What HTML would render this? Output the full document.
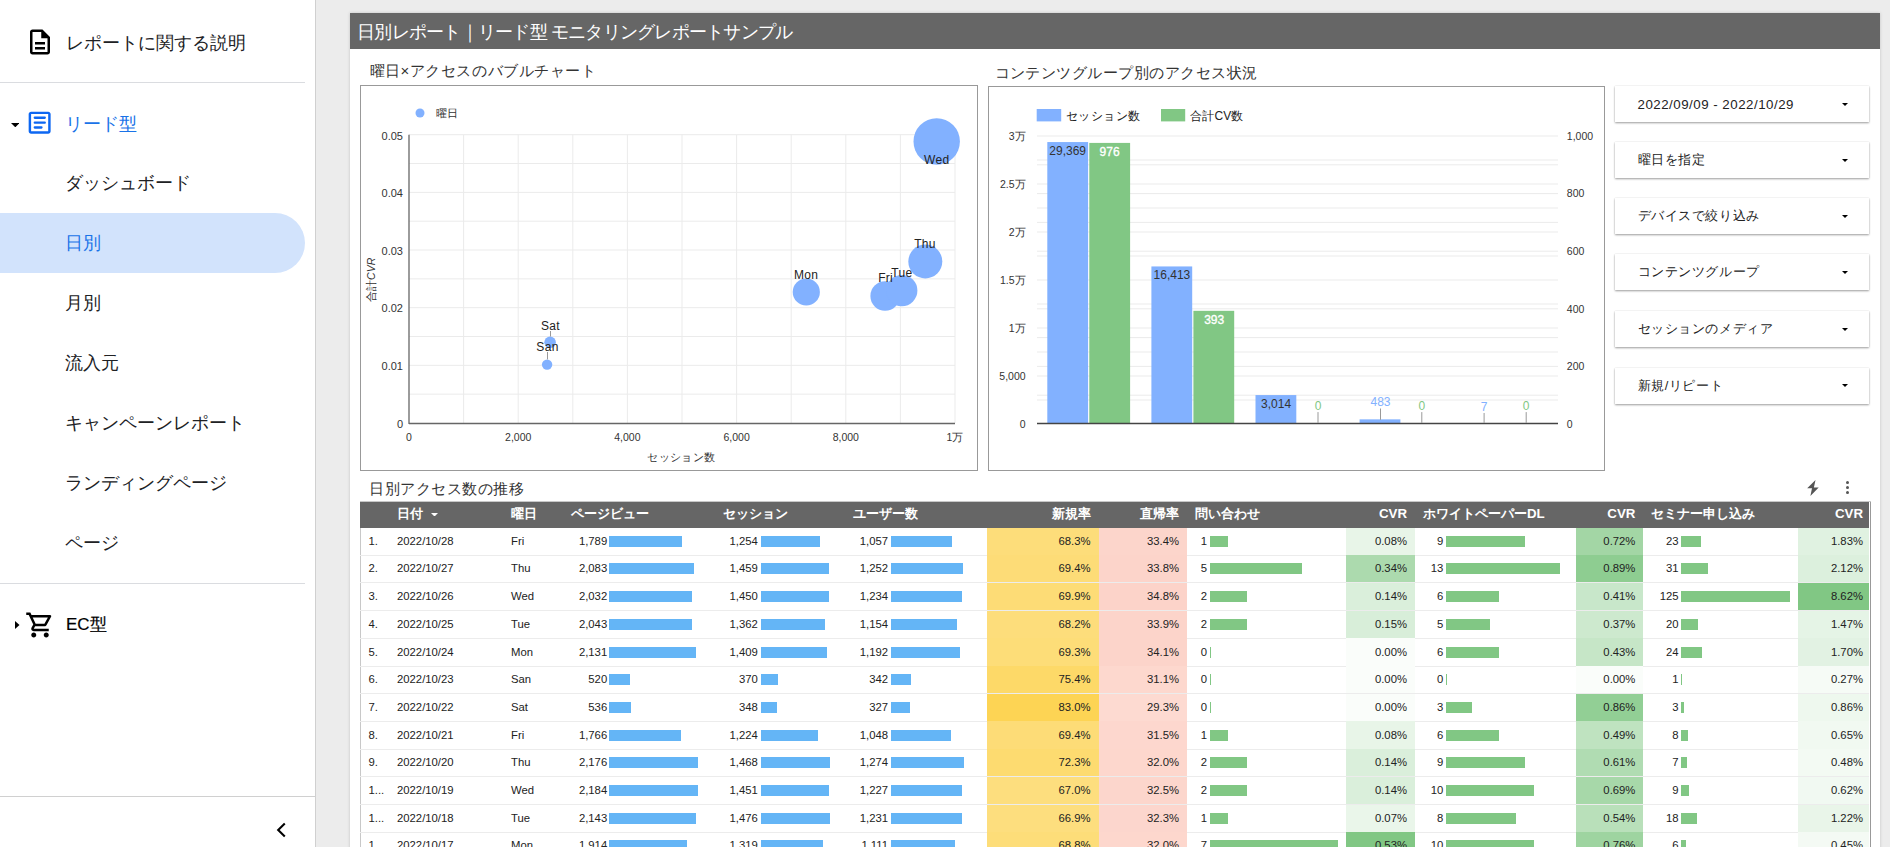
<!DOCTYPE html>
<html lang="ja"><head><meta charset="utf-8"><title>日別レポート</title>
<style>
*{margin:0;padding:0;box-sizing:border-box}
html,body{width:1890px;height:847px;overflow:hidden;background:#ececec;font-family:"Liberation Sans", sans-serif;}
.t{position:absolute;white-space:nowrap}
.r{position:absolute}
</style></head><body>
<div class="r" style="left:0.00px;top:0.00px;width:315.00px;height:847.00px;background:#fff;"></div>
<div class="r" style="left:315.00px;top:0.00px;width:1.00px;height:847.00px;background:#d0d0d0;"></div>
<svg class="r" style="left:25px;top:26.7px" width="30" height="30" viewBox="0 0 24 24"><path fill="#000" d="M8 16h8v2H8zm0-4h8v2H8zm6-10H6c-1.1 0-2 .9-2 2v16c0 1.1.89 2 1.99 2H18c1.1 0 2-.9 2-2V8l-6-6zm4 18H6V4h7v5h5v11z"/></svg>
<div class="t" style="left:65.50px;top:30.50px;line-height:24px;font-size:17.5px;color:#202124;font-weight:normal;">レポートに関する説明</div>
<div class="r" style="left:0.00px;top:82.00px;width:305.00px;height:1.00px;background:#dadce0;"></div>
<svg class="r" style="left:10.6px;top:122.9px" width="8.6" height="4.3" viewBox="0 0 9 4.5"><path d="M0 0h9L4.5 4.5z" fill="#000"/></svg>
<svg class="r" style="left:25.3px;top:108.1px" width="29.3" height="29.3" viewBox="0 0 24 24"><path fill="#0d67f2" d="M19 5v14H5V5h14m0-2H5c-1.1 0-2 .9-2 2v14c0 1.1.9 2 2 2h14c1.1 0 2-.9 2-2V5c0-1.1-.9-2-2-2z"/><path stroke="#0d67f2" stroke-width="1.9" stroke-linecap="round" d="M8 8h8.2M8 12h8.2M8 16h5.5"/></svg>
<div class="t" style="left:64.50px;top:112.00px;line-height:24px;font-size:17.5px;color:#1a73e8;font-weight:normal;">リード型</div>
<div class="r" style="left:0;top:213px;width:305px;height:60px;background:#d2e3fc;border-radius:0 30px 30px 0"></div>
<div class="t" style="left:65.00px;top:171.00px;line-height:24px;font-size:17.5px;color:#202124;font-weight:normal;">ダッシュボード</div>
<div class="t" style="left:65.00px;top:231.00px;line-height:24px;font-size:17.5px;color:#1a73e8;font-weight:normal;">日別</div>
<div class="t" style="left:65.00px;top:291.00px;line-height:24px;font-size:17.5px;color:#202124;font-weight:normal;">月別</div>
<div class="t" style="left:65.00px;top:351.00px;line-height:24px;font-size:17.5px;color:#202124;font-weight:normal;">流入元</div>
<div class="t" style="left:65.00px;top:411.00px;line-height:24px;font-size:17.5px;color:#202124;font-weight:normal;">キャンペーンレポート</div>
<div class="t" style="left:65.00px;top:471.00px;line-height:24px;font-size:17.5px;color:#202124;font-weight:normal;">ランディングページ</div>
<div class="t" style="left:65.00px;top:531.00px;line-height:24px;font-size:17.5px;color:#202124;font-weight:normal;">ページ</div>
<div class="r" style="left:0.00px;top:583.00px;width:305.00px;height:1.00px;background:#dadce0;"></div>
<svg class="r" style="left:15px;top:621px" width="5" height="8" viewBox="0 0 5 8"><path d="M0 0v8l4.5-4z" fill="#000"/></svg>
<svg class="r" style="left:24.75px;top:609.5px" width="30" height="30" viewBox="0 0 24 24"><path fill="#000" d="M15.55 13c.75 0 1.41-.41 1.75-1.03l3.58-6.49c.37-.66-.11-1.48-.87-1.48H5.21l-.94-2H1v2h2l3.6 7.59-1.35 2.44C4.52 15.37 5.48 17 7 17h12v-2H7l1.1-2h7.45zM6.16 6h12.15l-2.76 5H8.53L6.16 6zM7 18c-1.1 0-1.99.9-1.99 2S5.9 22 7 22s2-.9 2-2-.9-2-2-2zm10 0c-1.1 0-1.99.9-1.99 2s.89 2 1.99 2 2-.9 2-2-.9-2-2-2z"/></svg>
<div class="t" style="left:66.00px;top:612.50px;line-height:24px;font-size:17px;color:#000;font-weight:normal;-webkit-text-stroke:0.2px #000">EC型</div>
<div class="r" style="left:0.00px;top:796.00px;width:315.00px;height:1.00px;background:#d0d0d0;"></div>
<svg class="r" style="left:275px;top:822px" width="12" height="16" viewBox="0 0 12 16"><path d="M9.8 1.6L3.2 8 9.8 14.4" fill="none" stroke="#000" stroke-width="2.1"/></svg>
<div class="r" style="left:350px;top:13px;width:1530px;height:900px;background:#fff;box-shadow:0 0 3px rgba(0,0,0,.18)"></div>
<div class="r" style="left:350.00px;top:13.00px;width:1530.00px;height:36.00px;background:#666;"></div>
<div class="t" style="left:357.00px;top:20.00px;line-height:24px;font-size:17.5px;color:#fff;font-weight:normal;letter-spacing:-0.75px">日別レポート｜リード型 モニタリングレポートサンプル</div>
<div class="t" style="left:369.50px;top:59.50px;line-height:21px;font-size:15px;color:#333;font-weight:normal;letter-spacing:0.54px">曜日×アクセスのバブルチャート</div>
<div class="t" style="left:994.50px;top:61.50px;line-height:21px;font-size:15px;color:#333;font-weight:normal;letter-spacing:0.48px">コンテンツグループ別のアクセス状況</div>
<svg class="r" style="left:0;top:0" width="1890" height="847" viewBox="0 0 1890 847" font-family="Liberation Sans, sans-serif"><rect x="360.5" y="85.5" width="617" height="385" fill="#fff" stroke="#999" stroke-width="1"/><circle cx="420" cy="113" r="4.5" fill="#82b1ff"/><text x="436" y="117" font-size="11" fill="#333">曜日</text><line x1="409" x2="955" y1="394.17" y2="394.17" stroke="#ebebeb" stroke-width="1"/><line x1="409" x2="955" y1="365.34" y2="365.34" stroke="#ebebeb" stroke-width="1"/><line x1="409" x2="955" y1="336.51" y2="336.51" stroke="#ebebeb" stroke-width="1"/><line x1="409" x2="955" y1="307.68" y2="307.68" stroke="#ebebeb" stroke-width="1"/><line x1="409" x2="955" y1="278.85" y2="278.85" stroke="#ebebeb" stroke-width="1"/><line x1="409" x2="955" y1="250.02" y2="250.02" stroke="#ebebeb" stroke-width="1"/><line x1="409" x2="955" y1="221.19" y2="221.19" stroke="#ebebeb" stroke-width="1"/><line x1="409" x2="955" y1="192.36" y2="192.36" stroke="#ebebeb" stroke-width="1"/><line x1="409" x2="955" y1="163.53" y2="163.53" stroke="#ebebeb" stroke-width="1"/><line x1="409" x2="955" y1="134.70" y2="134.70" stroke="#ebebeb" stroke-width="1"/><line x1="463.60" x2="463.60" y1="134.7" y2="423" stroke="#ebebeb" stroke-width="1"/><line x1="518.20" x2="518.20" y1="134.7" y2="423" stroke="#ebebeb" stroke-width="1"/><line x1="572.80" x2="572.80" y1="134.7" y2="423" stroke="#ebebeb" stroke-width="1"/><line x1="627.40" x2="627.40" y1="134.7" y2="423" stroke="#ebebeb" stroke-width="1"/><line x1="682.00" x2="682.00" y1="134.7" y2="423" stroke="#ebebeb" stroke-width="1"/><line x1="736.60" x2="736.60" y1="134.7" y2="423" stroke="#ebebeb" stroke-width="1"/><line x1="791.20" x2="791.20" y1="134.7" y2="423" stroke="#ebebeb" stroke-width="1"/><line x1="845.80" x2="845.80" y1="134.7" y2="423" stroke="#ebebeb" stroke-width="1"/><line x1="900.40" x2="900.40" y1="134.7" y2="423" stroke="#ebebeb" stroke-width="1"/><line x1="955.00" x2="955.00" y1="134.7" y2="423" stroke="#ebebeb" stroke-width="1"/><line x1="409" x2="409" y1="134.7" y2="424" stroke="#666" stroke-width="1.3"/><line x1="409" x2="955" y1="423.5" y2="423.5" stroke="#666" stroke-width="1.5"/><text x="403" y="427.80" font-size="11" fill="#333" text-anchor="end">0</text><text x="403" y="370.14" font-size="11" fill="#333" text-anchor="end">0.01</text><text x="403" y="312.48" font-size="11" fill="#333" text-anchor="end">0.02</text><text x="403" y="254.82" font-size="11" fill="#333" text-anchor="end">0.03</text><text x="403" y="197.16" font-size="11" fill="#333" text-anchor="end">0.04</text><text x="403" y="139.50" font-size="11" fill="#333" text-anchor="end">0.05</text><text x="409.00" y="441" font-size="10.5" fill="#333" text-anchor="middle">0</text><text x="518.20" y="441" font-size="10.5" fill="#333" text-anchor="middle">2,000</text><text x="627.40" y="441" font-size="10.5" fill="#333" text-anchor="middle">4,000</text><text x="736.60" y="441" font-size="10.5" fill="#333" text-anchor="middle">6,000</text><text x="845.80" y="441" font-size="10.5" fill="#333" text-anchor="middle">8,000</text><text x="955.00" y="441" font-size="10.5" fill="#333" text-anchor="middle">1万</text><text x="681.5" y="461" font-size="11" fill="#333" text-anchor="middle" letter-spacing="0.4">セッション数</text><text transform="translate(374.6,279.8) rotate(-90)" font-size="10.5" fill="#333" text-anchor="middle">合計<tspan font-style="italic">CVR</tspan></text><circle cx="936.7" cy="141.5" r="23.2" fill="#82b1ff"/><circle cx="925.3" cy="261.4" r="17" fill="#82b1ff"/><circle cx="806.3" cy="292" r="13.6" fill="#82b1ff"/><circle cx="885.1" cy="296" r="14.7" fill="#82b1ff"/><circle cx="901.8" cy="290.6" r="15.6" fill="#82b1ff"/><circle cx="550.1" cy="342.3" r="5.8" fill="#82b1ff"/><circle cx="547.1" cy="364.6" r="5.2" fill="#82b1ff"/><text x="936.7" y="164.30" font-size="12" fill="#222" text-anchor="middle" letter-spacing="0.3">Wed</text><text x="925" y="248.30" font-size="12" fill="#222" text-anchor="middle" letter-spacing="0.3">Thu</text><text x="806" y="279.30" font-size="12" fill="#222" text-anchor="middle" letter-spacing="0.3">Mon</text><text x="885.6" y="281.80" font-size="12" fill="#222" text-anchor="middle" letter-spacing="0.3">Fri</text><text x="901.8" y="277.30" font-size="12" fill="#222" text-anchor="middle" letter-spacing="0.3">Tue</text><line x1="550.5" x2="550.5" y1="331" y2="336.5" stroke="#999" stroke-width="1"/><text x="550.5" y="330.30" font-size="12" fill="#222" text-anchor="middle" letter-spacing="0.3">Sat</text><line x1="547.5" x2="547.5" y1="352" y2="359.40000000000003" stroke="#999" stroke-width="1"/><text x="547.5" y="351.30" font-size="12" fill="#222" text-anchor="middle" letter-spacing="0.3">San</text><rect x="988.5" y="86.5" width="616" height="384" fill="#fff" stroke="#999" stroke-width="1"/><rect x="1036.7" y="109" width="24.5" height="12.4" fill="#82b1ff"/><text x="1066" y="119.5" font-size="12" fill="#222" letter-spacing="0.4">セッション数</text><rect x="1161" y="109" width="24.2" height="12.4" fill="#81c784"/><text x="1190" y="119.5" font-size="12" fill="#222" letter-spacing="0.2">合計CV数</text><line x1="1037" x2="1558" y1="136" y2="136" stroke="#ebebeb" stroke-width="1"/><line x1="1037" x2="1558" y1="160" y2="160" stroke="#ebebeb" stroke-width="1"/><line x1="1037" x2="1558" y1="164.8" y2="164.8" stroke="#ebebeb" stroke-width="1"/><line x1="1037" x2="1558" y1="184" y2="184" stroke="#ebebeb" stroke-width="1"/><line x1="1037" x2="1558" y1="193.6" y2="193.6" stroke="#ebebeb" stroke-width="1"/><line x1="1037" x2="1558" y1="208" y2="208" stroke="#ebebeb" stroke-width="1"/><line x1="1037" x2="1558" y1="222.4" y2="222.4" stroke="#ebebeb" stroke-width="1"/><line x1="1037" x2="1558" y1="232" y2="232" stroke="#ebebeb" stroke-width="1"/><line x1="1037" x2="1558" y1="251.2" y2="251.2" stroke="#ebebeb" stroke-width="1"/><line x1="1037" x2="1558" y1="256" y2="256" stroke="#ebebeb" stroke-width="1"/><line x1="1037" x2="1558" y1="280" y2="280" stroke="#ebebeb" stroke-width="1"/><line x1="1037" x2="1558" y1="304" y2="304" stroke="#ebebeb" stroke-width="1"/><line x1="1037" x2="1558" y1="308.8" y2="308.8" stroke="#ebebeb" stroke-width="1"/><line x1="1037" x2="1558" y1="328" y2="328" stroke="#ebebeb" stroke-width="1"/><line x1="1037" x2="1558" y1="337.6" y2="337.6" stroke="#ebebeb" stroke-width="1"/><line x1="1037" x2="1558" y1="352" y2="352" stroke="#ebebeb" stroke-width="1"/><line x1="1037" x2="1558" y1="366.4" y2="366.4" stroke="#ebebeb" stroke-width="1"/><line x1="1037" x2="1558" y1="376" y2="376" stroke="#ebebeb" stroke-width="1"/><line x1="1037" x2="1558" y1="395.2" y2="395.2" stroke="#ebebeb" stroke-width="1"/><line x1="1037" x2="1558" y1="400" y2="400" stroke="#ebebeb" stroke-width="1"/><text x="1025.6" y="427.80" font-size="10.5" fill="#333" text-anchor="end">0</text><text x="1025.6" y="379.80" font-size="10.5" fill="#333" text-anchor="end">5,000</text><text x="1025.6" y="331.80" font-size="10.5" fill="#333" text-anchor="end">1万</text><text x="1025.6" y="283.80" font-size="10.5" fill="#333" text-anchor="end">1.5万</text><text x="1025.6" y="235.80" font-size="10.5" fill="#333" text-anchor="end">2万</text><text x="1025.6" y="187.80" font-size="10.5" fill="#333" text-anchor="end">2.5万</text><text x="1025.6" y="139.80" font-size="10.5" fill="#333" text-anchor="end">3万</text><text x="1566.8" y="427.80" font-size="10.5" fill="#333">0</text><text x="1566.8" y="370.20" font-size="10.5" fill="#333">200</text><text x="1566.8" y="312.60" font-size="10.5" fill="#333">400</text><text x="1566.8" y="255.00" font-size="10.5" fill="#333">600</text><text x="1566.8" y="197.40" font-size="10.5" fill="#333">800</text><text x="1566.8" y="139.80" font-size="10.5" fill="#333">1,000</text><rect x="1047.30" y="142.06" width="40.8" height="281.94" fill="#82b1ff"/><rect x="1089.30" y="142.91" width="40.8" height="281.09" fill="#81c784"/><rect x="1151.40" y="266.44" width="40.8" height="157.56" fill="#82b1ff"/><rect x="1193.40" y="310.82" width="40.8" height="113.18" fill="#81c784"/><rect x="1255.50" y="395.07" width="40.8" height="28.93" fill="#82b1ff"/><rect x="1359.60" y="419.36" width="40.8" height="4.64" fill="#82b1ff"/><line x1="1037" x2="1558" y1="423.5" y2="423.5" stroke="#444" stroke-width="1.6"/><text x="1067.7" y="154.90" font-size="12" fill="#333" text-anchor="middle">29,369</text><text x="1109.6" y="155.8" font-size="12" fill="#fff" stroke="#fff" stroke-width="0.35" text-anchor="middle">976</text><text x="1171.9" y="278.70" font-size="12" fill="#333" text-anchor="middle">16,413</text><text x="1214.2" y="323.9" font-size="12" fill="#fff" stroke="#fff" stroke-width="0.35" text-anchor="middle">393</text><text x="1276.1" y="408.20" font-size="12" fill="#333" text-anchor="middle">3,014</text><text x="1318" y="409.80" font-size="12" fill="#81c784" text-anchor="middle">0</text><line x1="1318" x2="1318" y1="412.10" y2="423" stroke="#999" stroke-width="1"/><text x="1380.5" y="406.20" font-size="12" fill="#82b1ff" text-anchor="middle">483</text><line x1="1380.5" x2="1380.5" y1="408.50" y2="419.8" stroke="#999" stroke-width="1"/><text x="1421.8" y="409.80" font-size="12" fill="#81c784" text-anchor="middle">0</text><line x1="1421.8" x2="1421.8" y1="412.10" y2="423" stroke="#999" stroke-width="1"/><text x="1484.1" y="410.70" font-size="12" fill="#82b1ff" text-anchor="middle">7</text><line x1="1484.1" x2="1484.1" y1="413.00" y2="423" stroke="#999" stroke-width="1"/><text x="1526.2" y="409.80" font-size="12" fill="#81c784" text-anchor="middle">0</text><line x1="1526.2" x2="1526.2" y1="412.10" y2="423" stroke="#999" stroke-width="1"/></svg>
<div class="r" style="left:1614.7px;top:86.4px;width:254.5px;height:36px;background:#fff;box-shadow:0 1px 2px rgba(0,0,0,.38),0 0 1px rgba(0,0,0,.12)"></div>
<div class="t" style="left:1637.50px;top:94.90px;line-height:19px;font-size:13.3px;color:#222;font-weight:normal;letter-spacing:0.5px">2022/09/09 - 2022/10/29</div>
<svg class="r" style="left:1842px;top:103.10px" width="6" height="3" viewBox="0 0 6 3"><path d="M0 0h6L3 3z" fill="#000"/></svg>
<div class="r" style="left:1614.7px;top:142.2px;width:254.5px;height:36px;background:#fff;box-shadow:0 1px 2px rgba(0,0,0,.38),0 0 1px rgba(0,0,0,.12)"></div>
<div class="t" style="left:1637.50px;top:151.20px;line-height:18px;font-size:12.8px;color:#222;font-weight:normal;letter-spacing:0.6px">曜日を指定</div>
<svg class="r" style="left:1842px;top:158.90px" width="6" height="3" viewBox="0 0 6 3"><path d="M0 0h6L3 3z" fill="#000"/></svg>
<div class="r" style="left:1614.7px;top:198px;width:254.5px;height:36px;background:#fff;box-shadow:0 1px 2px rgba(0,0,0,.38),0 0 1px rgba(0,0,0,.12)"></div>
<div class="t" style="left:1637.50px;top:207.00px;line-height:18px;font-size:12.8px;color:#222;font-weight:normal;letter-spacing:0.6px">デバイスで絞り込み</div>
<svg class="r" style="left:1842px;top:214.70px" width="6" height="3" viewBox="0 0 6 3"><path d="M0 0h6L3 3z" fill="#000"/></svg>
<div class="r" style="left:1614.7px;top:254.4px;width:254.5px;height:36px;background:#fff;box-shadow:0 1px 2px rgba(0,0,0,.38),0 0 1px rgba(0,0,0,.12)"></div>
<div class="t" style="left:1637.50px;top:263.40px;line-height:18px;font-size:12.8px;color:#222;font-weight:normal;letter-spacing:0.6px">コンテンツグループ</div>
<svg class="r" style="left:1842px;top:271.10px" width="6" height="3" viewBox="0 0 6 3"><path d="M0 0h6L3 3z" fill="#000"/></svg>
<div class="r" style="left:1614.7px;top:311.2px;width:254.5px;height:36px;background:#fff;box-shadow:0 1px 2px rgba(0,0,0,.38),0 0 1px rgba(0,0,0,.12)"></div>
<div class="t" style="left:1637.50px;top:320.20px;line-height:18px;font-size:12.8px;color:#222;font-weight:normal;letter-spacing:0.6px">セッションのメディア</div>
<svg class="r" style="left:1842px;top:327.90px" width="6" height="3" viewBox="0 0 6 3"><path d="M0 0h6L3 3z" fill="#000"/></svg>
<div class="r" style="left:1614.7px;top:367.5px;width:254.5px;height:36px;background:#fff;box-shadow:0 1px 2px rgba(0,0,0,.38),0 0 1px rgba(0,0,0,.12)"></div>
<div class="t" style="left:1637.50px;top:376.50px;line-height:18px;font-size:12.8px;color:#222;font-weight:normal;letter-spacing:0.6px">新規/リピート</div>
<svg class="r" style="left:1842px;top:384.20px" width="6" height="3" viewBox="0 0 6 3"><path d="M0 0h6L3 3z" fill="#000"/></svg>
<div class="t" style="left:369.00px;top:478.10px;line-height:21px;font-size:15px;color:#333;font-weight:normal;letter-spacing:0.5px">日別アクセス数の推移</div>
<svg class="r" style="left:1806.5px;top:479.8px" width="12" height="16" viewBox="0 0 12 16"><path d="M8.5 0L0.2 8.3h4.8L3.4 16 11.7 7.4H6.9z" fill="#555"/></svg>
<div class="r" style="left:1846.0px;top:481.2px;width:3px;height:3px;border-radius:50%;background:#555"></div>
<div class="r" style="left:1846.0px;top:486.1px;width:3px;height:3px;border-radius:50%;background:#555"></div>
<div class="r" style="left:1846.0px;top:491.0px;width:3px;height:3px;border-radius:50%;background:#555"></div>
<div class="r" style="left:360.00px;top:501.00px;width:1510.50px;height:847.00px;background:#fff;border:1px solid #c8c8c8"></div>
<div class="r" style="left:360.00px;top:502.00px;width:1509.00px;height:25.50px;background:#666;"></div>
<div class="t" style="left:397.00px;top:504.25px;line-height:19px;font-size:13.3px;color:#fff;font-weight:bold;">日付</div>
<svg class="r" style="left:430.5px;top:512.55px" width="7" height="3.6" viewBox="0 0 7 3.6"><path d="M0 0h7L3.5 3.6z" fill="#fff"/></svg>
<div class="t" style="left:510.80px;top:504.25px;line-height:19px;font-size:13.3px;color:#fff;font-weight:bold;">曜日</div>
<div class="t" style="left:571.20px;top:504.25px;line-height:19px;font-size:13.3px;color:#fff;font-weight:bold;">ページビュー</div>
<div class="t" style="left:722.90px;top:504.25px;line-height:19px;font-size:13.3px;color:#fff;font-weight:bold;">セッション</div>
<div class="t" style="left:852.80px;top:504.25px;line-height:19px;font-size:13.3px;color:#fff;font-weight:bold;">ユーザー数</div>
<div class="t" style="left:690.50px;width:400px;text-align:right;top:504.25px;line-height:19px;font-size:13.3px;color:#fff;font-weight:bold;">新規率</div>
<div class="t" style="left:779.00px;width:400px;text-align:right;top:504.25px;line-height:19px;font-size:13.3px;color:#fff;font-weight:bold;">直帰率</div>
<div class="t" style="left:1194.80px;top:504.25px;line-height:19px;font-size:13.3px;color:#fff;font-weight:bold;">問い合わせ</div>
<div class="t" style="left:1007.00px;width:400px;text-align:right;top:504.25px;line-height:19px;font-size:13.3px;color:#fff;font-weight:bold;">CVR</div>
<div class="t" style="left:1423.00px;top:504.25px;line-height:19px;font-size:13.3px;color:#fff;font-weight:bold;">ホワイトペーパーDL</div>
<div class="t" style="left:1235.40px;width:400px;text-align:right;top:504.25px;line-height:19px;font-size:13.3px;color:#fff;font-weight:bold;">CVR</div>
<div class="t" style="left:1650.80px;top:504.25px;line-height:19px;font-size:13.3px;color:#fff;font-weight:bold;">セミナー申し込み</div>
<div class="t" style="left:1463.00px;width:400px;text-align:right;top:504.25px;line-height:19px;font-size:13.3px;color:#fff;font-weight:bold;">CVR</div>
<div class="r" style="left:986.50px;top:527.50px;width:112.50px;height:27.70px;background:#fddd7a;"></div>
<div class="r" style="left:1099.00px;top:527.50px;width:88.00px;height:27.70px;background:#fcd5cb;"></div>
<div class="r" style="left:1346.00px;top:527.50px;width:69.00px;height:27.70px;background:#e8f5e8;"></div>
<div class="r" style="left:1576.30px;top:527.50px;width:67.20px;height:27.70px;background:#a3d6a5;"></div>
<div class="r" style="left:1797.50px;top:527.50px;width:71.50px;height:27.70px;background:#e0f2e1;"></div>
<div class="r" style="left:360.00px;top:554.70px;width:1509.00px;height:1.00px;background:#ececec;"></div>
<div class="t" style="left:368.50px;top:532.75px;line-height:16px;font-size:11.3px;color:#222;font-weight:normal;">1.</div>
<div class="t" style="left:397.00px;top:532.75px;line-height:16px;font-size:11.3px;color:#222;font-weight:normal;">2022/10/28</div>
<div class="t" style="left:511.00px;top:532.75px;line-height:16px;font-size:11.3px;color:#222;font-weight:normal;">Fri</div>
<div class="t" style="left:207.20px;width:400px;text-align:right;top:532.75px;line-height:16px;font-size:11.3px;color:#222;font-weight:normal;">1,789</div>
<div class="r" style="left:609.20px;top:535.70px;width:72.81px;height:11.00px;background:#64b5f6;"></div>
<div class="t" style="left:357.80px;width:400px;text-align:right;top:532.75px;line-height:16px;font-size:11.3px;color:#222;font-weight:normal;">1,254</div>
<div class="r" style="left:761.00px;top:535.70px;width:58.81px;height:11.00px;background:#64b5f6;"></div>
<div class="t" style="left:488.00px;width:400px;text-align:right;top:532.75px;line-height:16px;font-size:11.3px;color:#222;font-weight:normal;">1,057</div>
<div class="r" style="left:891.00px;top:535.70px;width:60.88px;height:11.00px;background:#64b5f6;"></div>
<div class="t" style="left:690.50px;width:400px;text-align:right;top:532.75px;line-height:16px;font-size:11.3px;color:#222;font-weight:normal;">68.3%</div>
<div class="t" style="left:779.00px;width:400px;text-align:right;top:532.75px;line-height:16px;font-size:11.3px;color:#222;font-weight:normal;">33.4%</div>
<div class="t" style="left:807.00px;width:400px;text-align:right;top:532.75px;line-height:16px;font-size:11.3px;color:#222;font-weight:normal;">1</div>
<div class="r" style="left:1210.00px;top:535.70px;width:18.30px;height:11.00px;background:#81c784;"></div>
<div class="t" style="left:1007.00px;width:400px;text-align:right;top:532.75px;line-height:16px;font-size:11.3px;color:#222;font-weight:normal;">0.08%</div>
<div class="t" style="left:1043.30px;width:400px;text-align:right;top:532.75px;line-height:16px;font-size:11.3px;color:#222;font-weight:normal;">9</div>
<div class="r" style="left:1445.60px;top:535.70px;width:79.38px;height:11.00px;background:#81c784;"></div>
<div class="t" style="left:1235.40px;width:400px;text-align:right;top:532.75px;line-height:16px;font-size:11.3px;color:#222;font-weight:normal;">0.72%</div>
<div class="t" style="left:1278.50px;width:400px;text-align:right;top:532.75px;line-height:16px;font-size:11.3px;color:#222;font-weight:normal;">23</div>
<div class="r" style="left:1681.00px;top:535.70px;width:19.96px;height:11.00px;background:#81c784;"></div>
<div class="t" style="left:1463.00px;width:400px;text-align:right;top:532.75px;line-height:16px;font-size:11.3px;color:#222;font-weight:normal;">1.83%</div>
<div class="r" style="left:986.50px;top:555.20px;width:112.50px;height:27.70px;background:#fddc77;"></div>
<div class="r" style="left:1099.00px;top:555.20px;width:88.00px;height:27.70px;background:#fcd4ca;"></div>
<div class="r" style="left:1346.00px;top:555.20px;width:69.00px;height:27.70px;background:#acdaae;"></div>
<div class="r" style="left:1576.30px;top:555.20px;width:67.20px;height:27.70px;background:#8ecd91;"></div>
<div class="r" style="left:1797.50px;top:555.20px;width:71.50px;height:27.70px;background:#dcf0dd;"></div>
<div class="r" style="left:360.00px;top:582.40px;width:1509.00px;height:1.00px;background:#ececec;"></div>
<div class="t" style="left:368.50px;top:560.45px;line-height:16px;font-size:11.3px;color:#222;font-weight:normal;">2.</div>
<div class="t" style="left:397.00px;top:560.45px;line-height:16px;font-size:11.3px;color:#222;font-weight:normal;">2022/10/27</div>
<div class="t" style="left:511.00px;top:560.45px;line-height:16px;font-size:11.3px;color:#222;font-weight:normal;">Thu</div>
<div class="t" style="left:207.20px;width:400px;text-align:right;top:560.45px;line-height:16px;font-size:11.3px;color:#222;font-weight:normal;">2,083</div>
<div class="r" style="left:609.20px;top:563.40px;width:84.78px;height:11.00px;background:#64b5f6;"></div>
<div class="t" style="left:357.80px;width:400px;text-align:right;top:560.45px;line-height:16px;font-size:11.3px;color:#222;font-weight:normal;">1,459</div>
<div class="r" style="left:761.00px;top:563.40px;width:68.43px;height:11.00px;background:#64b5f6;"></div>
<div class="t" style="left:488.00px;width:400px;text-align:right;top:560.45px;line-height:16px;font-size:11.3px;color:#222;font-weight:normal;">1,252</div>
<div class="r" style="left:891.00px;top:563.40px;width:72.12px;height:11.00px;background:#64b5f6;"></div>
<div class="t" style="left:690.50px;width:400px;text-align:right;top:560.45px;line-height:16px;font-size:11.3px;color:#222;font-weight:normal;">69.4%</div>
<div class="t" style="left:779.00px;width:400px;text-align:right;top:560.45px;line-height:16px;font-size:11.3px;color:#222;font-weight:normal;">33.8%</div>
<div class="t" style="left:807.00px;width:400px;text-align:right;top:560.45px;line-height:16px;font-size:11.3px;color:#222;font-weight:normal;">5</div>
<div class="r" style="left:1210.00px;top:563.40px;width:91.50px;height:11.00px;background:#81c784;"></div>
<div class="t" style="left:1007.00px;width:400px;text-align:right;top:560.45px;line-height:16px;font-size:11.3px;color:#222;font-weight:normal;">0.34%</div>
<div class="t" style="left:1043.30px;width:400px;text-align:right;top:560.45px;line-height:16px;font-size:11.3px;color:#222;font-weight:normal;">13</div>
<div class="r" style="left:1445.60px;top:563.40px;width:114.66px;height:11.00px;background:#81c784;"></div>
<div class="t" style="left:1235.40px;width:400px;text-align:right;top:560.45px;line-height:16px;font-size:11.3px;color:#222;font-weight:normal;">0.89%</div>
<div class="t" style="left:1278.50px;width:400px;text-align:right;top:560.45px;line-height:16px;font-size:11.3px;color:#222;font-weight:normal;">31</div>
<div class="r" style="left:1681.00px;top:563.40px;width:26.91px;height:11.00px;background:#81c784;"></div>
<div class="t" style="left:1463.00px;width:400px;text-align:right;top:560.45px;line-height:16px;font-size:11.3px;color:#222;font-weight:normal;">2.12%</div>
<div class="r" style="left:986.50px;top:582.90px;width:112.50px;height:27.70px;background:#fddc76;"></div>
<div class="r" style="left:1099.00px;top:582.90px;width:88.00px;height:27.70px;background:#fcd3c9;"></div>
<div class="r" style="left:1346.00px;top:582.90px;width:69.00px;height:27.70px;background:#daefdb;"></div>
<div class="r" style="left:1576.30px;top:582.90px;width:67.20px;height:27.70px;background:#c8e7ca;"></div>
<div class="r" style="left:1797.50px;top:582.90px;width:71.50px;height:27.70px;background:#81c784;"></div>
<div class="r" style="left:360.00px;top:610.10px;width:1509.00px;height:1.00px;background:#ececec;"></div>
<div class="t" style="left:368.50px;top:588.15px;line-height:16px;font-size:11.3px;color:#222;font-weight:normal;">3.</div>
<div class="t" style="left:397.00px;top:588.15px;line-height:16px;font-size:11.3px;color:#222;font-weight:normal;">2022/10/26</div>
<div class="t" style="left:511.00px;top:588.15px;line-height:16px;font-size:11.3px;color:#222;font-weight:normal;">Wed</div>
<div class="t" style="left:207.20px;width:400px;text-align:right;top:588.15px;line-height:16px;font-size:11.3px;color:#222;font-weight:normal;">2,032</div>
<div class="r" style="left:609.20px;top:591.10px;width:82.70px;height:11.00px;background:#64b5f6;"></div>
<div class="t" style="left:357.80px;width:400px;text-align:right;top:588.15px;line-height:16px;font-size:11.3px;color:#222;font-weight:normal;">1,450</div>
<div class="r" style="left:761.00px;top:591.10px;width:68.00px;height:11.00px;background:#64b5f6;"></div>
<div class="t" style="left:488.00px;width:400px;text-align:right;top:588.15px;line-height:16px;font-size:11.3px;color:#222;font-weight:normal;">1,234</div>
<div class="r" style="left:891.00px;top:591.10px;width:71.08px;height:11.00px;background:#64b5f6;"></div>
<div class="t" style="left:690.50px;width:400px;text-align:right;top:588.15px;line-height:16px;font-size:11.3px;color:#222;font-weight:normal;">69.9%</div>
<div class="t" style="left:779.00px;width:400px;text-align:right;top:588.15px;line-height:16px;font-size:11.3px;color:#222;font-weight:normal;">34.8%</div>
<div class="t" style="left:807.00px;width:400px;text-align:right;top:588.15px;line-height:16px;font-size:11.3px;color:#222;font-weight:normal;">2</div>
<div class="r" style="left:1210.00px;top:591.10px;width:36.60px;height:11.00px;background:#81c784;"></div>
<div class="t" style="left:1007.00px;width:400px;text-align:right;top:588.15px;line-height:16px;font-size:11.3px;color:#222;font-weight:normal;">0.14%</div>
<div class="t" style="left:1043.30px;width:400px;text-align:right;top:588.15px;line-height:16px;font-size:11.3px;color:#222;font-weight:normal;">6</div>
<div class="r" style="left:1445.60px;top:591.10px;width:52.92px;height:11.00px;background:#81c784;"></div>
<div class="t" style="left:1235.40px;width:400px;text-align:right;top:588.15px;line-height:16px;font-size:11.3px;color:#222;font-weight:normal;">0.41%</div>
<div class="t" style="left:1278.50px;width:400px;text-align:right;top:588.15px;line-height:16px;font-size:11.3px;color:#222;font-weight:normal;">125</div>
<div class="r" style="left:1681.00px;top:591.10px;width:108.50px;height:11.00px;background:#81c784;"></div>
<div class="t" style="left:1463.00px;width:400px;text-align:right;top:588.15px;line-height:16px;font-size:11.3px;color:#222;font-weight:normal;">8.62%</div>
<div class="r" style="left:986.50px;top:610.60px;width:112.50px;height:27.70px;background:#fddd7b;"></div>
<div class="r" style="left:1099.00px;top:610.60px;width:88.00px;height:27.70px;background:#fcd4ca;"></div>
<div class="r" style="left:1346.00px;top:610.60px;width:69.00px;height:27.70px;background:#d8eed9;"></div>
<div class="r" style="left:1576.30px;top:610.60px;width:67.20px;height:27.70px;background:#cde9ce;"></div>
<div class="r" style="left:1797.50px;top:610.60px;width:71.50px;height:27.70px;background:#e5f4e6;"></div>
<div class="r" style="left:360.00px;top:637.80px;width:1509.00px;height:1.00px;background:#ececec;"></div>
<div class="t" style="left:368.50px;top:615.85px;line-height:16px;font-size:11.3px;color:#222;font-weight:normal;">4.</div>
<div class="t" style="left:397.00px;top:615.85px;line-height:16px;font-size:11.3px;color:#222;font-weight:normal;">2022/10/25</div>
<div class="t" style="left:511.00px;top:615.85px;line-height:16px;font-size:11.3px;color:#222;font-weight:normal;">Tue</div>
<div class="t" style="left:207.20px;width:400px;text-align:right;top:615.85px;line-height:16px;font-size:11.3px;color:#222;font-weight:normal;">2,043</div>
<div class="r" style="left:609.20px;top:618.80px;width:83.15px;height:11.00px;background:#64b5f6;"></div>
<div class="t" style="left:357.80px;width:400px;text-align:right;top:615.85px;line-height:16px;font-size:11.3px;color:#222;font-weight:normal;">1,362</div>
<div class="r" style="left:761.00px;top:618.80px;width:63.88px;height:11.00px;background:#64b5f6;"></div>
<div class="t" style="left:488.00px;width:400px;text-align:right;top:615.85px;line-height:16px;font-size:11.3px;color:#222;font-weight:normal;">1,154</div>
<div class="r" style="left:891.00px;top:618.80px;width:66.47px;height:11.00px;background:#64b5f6;"></div>
<div class="t" style="left:690.50px;width:400px;text-align:right;top:615.85px;line-height:16px;font-size:11.3px;color:#222;font-weight:normal;">68.2%</div>
<div class="t" style="left:779.00px;width:400px;text-align:right;top:615.85px;line-height:16px;font-size:11.3px;color:#222;font-weight:normal;">33.9%</div>
<div class="t" style="left:807.00px;width:400px;text-align:right;top:615.85px;line-height:16px;font-size:11.3px;color:#222;font-weight:normal;">2</div>
<div class="r" style="left:1210.00px;top:618.80px;width:36.60px;height:11.00px;background:#81c784;"></div>
<div class="t" style="left:1007.00px;width:400px;text-align:right;top:615.85px;line-height:16px;font-size:11.3px;color:#222;font-weight:normal;">0.15%</div>
<div class="t" style="left:1043.30px;width:400px;text-align:right;top:615.85px;line-height:16px;font-size:11.3px;color:#222;font-weight:normal;">5</div>
<div class="r" style="left:1445.60px;top:618.80px;width:44.10px;height:11.00px;background:#81c784;"></div>
<div class="t" style="left:1235.40px;width:400px;text-align:right;top:615.85px;line-height:16px;font-size:11.3px;color:#222;font-weight:normal;">0.37%</div>
<div class="t" style="left:1278.50px;width:400px;text-align:right;top:615.85px;line-height:16px;font-size:11.3px;color:#222;font-weight:normal;">20</div>
<div class="r" style="left:1681.00px;top:618.80px;width:17.36px;height:11.00px;background:#81c784;"></div>
<div class="t" style="left:1463.00px;width:400px;text-align:right;top:615.85px;line-height:16px;font-size:11.3px;color:#222;font-weight:normal;">1.47%</div>
<div class="r" style="left:986.50px;top:638.30px;width:112.50px;height:27.70px;background:#fddd78;"></div>
<div class="r" style="left:1099.00px;top:638.30px;width:88.00px;height:27.70px;background:#fcd4ca;"></div>
<div class="r" style="left:1346.00px;top:638.30px;width:69.00px;height:27.70px;background:#fafdfa;"></div>
<div class="r" style="left:1576.30px;top:638.30px;width:67.20px;height:27.70px;background:#c6e6c7;"></div>
<div class="r" style="left:1797.50px;top:638.30px;width:71.50px;height:27.70px;background:#e2f2e3;"></div>
<div class="r" style="left:360.00px;top:665.50px;width:1509.00px;height:1.00px;background:#ececec;"></div>
<div class="t" style="left:368.50px;top:643.55px;line-height:16px;font-size:11.3px;color:#222;font-weight:normal;">5.</div>
<div class="t" style="left:397.00px;top:643.55px;line-height:16px;font-size:11.3px;color:#222;font-weight:normal;">2022/10/24</div>
<div class="t" style="left:511.00px;top:643.55px;line-height:16px;font-size:11.3px;color:#222;font-weight:normal;">Mon</div>
<div class="t" style="left:207.20px;width:400px;text-align:right;top:643.55px;line-height:16px;font-size:11.3px;color:#222;font-weight:normal;">2,131</div>
<div class="r" style="left:609.20px;top:646.50px;width:86.73px;height:11.00px;background:#64b5f6;"></div>
<div class="t" style="left:357.80px;width:400px;text-align:right;top:643.55px;line-height:16px;font-size:11.3px;color:#222;font-weight:normal;">1,409</div>
<div class="r" style="left:761.00px;top:646.50px;width:66.08px;height:11.00px;background:#64b5f6;"></div>
<div class="t" style="left:488.00px;width:400px;text-align:right;top:643.55px;line-height:16px;font-size:11.3px;color:#222;font-weight:normal;">1,192</div>
<div class="r" style="left:891.00px;top:646.50px;width:68.66px;height:11.00px;background:#64b5f6;"></div>
<div class="t" style="left:690.50px;width:400px;text-align:right;top:643.55px;line-height:16px;font-size:11.3px;color:#222;font-weight:normal;">69.3%</div>
<div class="t" style="left:779.00px;width:400px;text-align:right;top:643.55px;line-height:16px;font-size:11.3px;color:#222;font-weight:normal;">34.1%</div>
<div class="t" style="left:807.00px;width:400px;text-align:right;top:643.55px;line-height:16px;font-size:11.3px;color:#222;font-weight:normal;">0</div>
<div class="r" style="left:1210.00px;top:646.50px;width:1.00px;height:11.00px;background:#81c784;"></div>
<div class="t" style="left:1007.00px;width:400px;text-align:right;top:643.55px;line-height:16px;font-size:11.3px;color:#222;font-weight:normal;">0.00%</div>
<div class="t" style="left:1043.30px;width:400px;text-align:right;top:643.55px;line-height:16px;font-size:11.3px;color:#222;font-weight:normal;">6</div>
<div class="r" style="left:1445.60px;top:646.50px;width:52.92px;height:11.00px;background:#81c784;"></div>
<div class="t" style="left:1235.40px;width:400px;text-align:right;top:643.55px;line-height:16px;font-size:11.3px;color:#222;font-weight:normal;">0.43%</div>
<div class="t" style="left:1278.50px;width:400px;text-align:right;top:643.55px;line-height:16px;font-size:11.3px;color:#222;font-weight:normal;">24</div>
<div class="r" style="left:1681.00px;top:646.50px;width:20.83px;height:11.00px;background:#81c784;"></div>
<div class="t" style="left:1463.00px;width:400px;text-align:right;top:643.55px;line-height:16px;font-size:11.3px;color:#222;font-weight:normal;">1.70%</div>
<div class="r" style="left:986.50px;top:666.00px;width:112.50px;height:27.70px;background:#fdd968;"></div>
<div class="r" style="left:1099.00px;top:666.00px;width:88.00px;height:27.70px;background:#fdd8ce;"></div>
<div class="r" style="left:1346.00px;top:666.00px;width:69.00px;height:27.70px;background:#fafdfa;"></div>
<div class="r" style="left:1576.30px;top:666.00px;width:67.20px;height:27.70px;background:#fafdfa;"></div>
<div class="r" style="left:1797.50px;top:666.00px;width:71.50px;height:27.70px;background:#f6fbf6;"></div>
<div class="r" style="left:360.00px;top:693.20px;width:1509.00px;height:1.00px;background:#ececec;"></div>
<div class="t" style="left:368.50px;top:671.25px;line-height:16px;font-size:11.3px;color:#222;font-weight:normal;">6.</div>
<div class="t" style="left:397.00px;top:671.25px;line-height:16px;font-size:11.3px;color:#222;font-weight:normal;">2022/10/23</div>
<div class="t" style="left:511.00px;top:671.25px;line-height:16px;font-size:11.3px;color:#222;font-weight:normal;">San</div>
<div class="t" style="left:207.20px;width:400px;text-align:right;top:671.25px;line-height:16px;font-size:11.3px;color:#222;font-weight:normal;">520</div>
<div class="r" style="left:609.20px;top:674.20px;width:21.16px;height:11.00px;background:#64b5f6;"></div>
<div class="t" style="left:357.80px;width:400px;text-align:right;top:671.25px;line-height:16px;font-size:11.3px;color:#222;font-weight:normal;">370</div>
<div class="r" style="left:761.00px;top:674.20px;width:17.35px;height:11.00px;background:#64b5f6;"></div>
<div class="t" style="left:488.00px;width:400px;text-align:right;top:671.25px;line-height:16px;font-size:11.3px;color:#222;font-weight:normal;">342</div>
<div class="r" style="left:891.00px;top:674.20px;width:19.70px;height:11.00px;background:#64b5f6;"></div>
<div class="t" style="left:690.50px;width:400px;text-align:right;top:671.25px;line-height:16px;font-size:11.3px;color:#222;font-weight:normal;">75.4%</div>
<div class="t" style="left:779.00px;width:400px;text-align:right;top:671.25px;line-height:16px;font-size:11.3px;color:#222;font-weight:normal;">31.1%</div>
<div class="t" style="left:807.00px;width:400px;text-align:right;top:671.25px;line-height:16px;font-size:11.3px;color:#222;font-weight:normal;">0</div>
<div class="r" style="left:1210.00px;top:674.20px;width:1.00px;height:11.00px;background:#81c784;"></div>
<div class="t" style="left:1007.00px;width:400px;text-align:right;top:671.25px;line-height:16px;font-size:11.3px;color:#222;font-weight:normal;">0.00%</div>
<div class="t" style="left:1043.30px;width:400px;text-align:right;top:671.25px;line-height:16px;font-size:11.3px;color:#222;font-weight:normal;">0</div>
<div class="r" style="left:1445.60px;top:674.20px;width:1.00px;height:11.00px;background:#81c784;"></div>
<div class="t" style="left:1235.40px;width:400px;text-align:right;top:671.25px;line-height:16px;font-size:11.3px;color:#222;font-weight:normal;">0.00%</div>
<div class="t" style="left:1278.50px;width:400px;text-align:right;top:671.25px;line-height:16px;font-size:11.3px;color:#222;font-weight:normal;">1</div>
<div class="r" style="left:1681.00px;top:674.20px;width:1.00px;height:11.00px;background:#81c784;"></div>
<div class="t" style="left:1463.00px;width:400px;text-align:right;top:671.25px;line-height:16px;font-size:11.3px;color:#222;font-weight:normal;">0.27%</div>
<div class="r" style="left:986.50px;top:693.70px;width:112.50px;height:27.70px;background:#fdd454;"></div>
<div class="r" style="left:1099.00px;top:693.70px;width:88.00px;height:27.70px;background:#fddad1;"></div>
<div class="r" style="left:1346.00px;top:693.70px;width:69.00px;height:27.70px;background:#fafdfa;"></div>
<div class="r" style="left:1576.30px;top:693.70px;width:67.20px;height:27.70px;background:#92cf95;"></div>
<div class="r" style="left:1797.50px;top:693.70px;width:71.50px;height:27.70px;background:#eef8ee;"></div>
<div class="r" style="left:360.00px;top:720.90px;width:1509.00px;height:1.00px;background:#ececec;"></div>
<div class="t" style="left:368.50px;top:698.95px;line-height:16px;font-size:11.3px;color:#222;font-weight:normal;">7.</div>
<div class="t" style="left:397.00px;top:698.95px;line-height:16px;font-size:11.3px;color:#222;font-weight:normal;">2022/10/22</div>
<div class="t" style="left:511.00px;top:698.95px;line-height:16px;font-size:11.3px;color:#222;font-weight:normal;">Sat</div>
<div class="t" style="left:207.20px;width:400px;text-align:right;top:698.95px;line-height:16px;font-size:11.3px;color:#222;font-weight:normal;">536</div>
<div class="r" style="left:609.20px;top:701.90px;width:21.82px;height:11.00px;background:#64b5f6;"></div>
<div class="t" style="left:357.80px;width:400px;text-align:right;top:698.95px;line-height:16px;font-size:11.3px;color:#222;font-weight:normal;">348</div>
<div class="r" style="left:761.00px;top:701.90px;width:16.32px;height:11.00px;background:#64b5f6;"></div>
<div class="t" style="left:488.00px;width:400px;text-align:right;top:698.95px;line-height:16px;font-size:11.3px;color:#222;font-weight:normal;">327</div>
<div class="r" style="left:891.00px;top:701.90px;width:18.84px;height:11.00px;background:#64b5f6;"></div>
<div class="t" style="left:690.50px;width:400px;text-align:right;top:698.95px;line-height:16px;font-size:11.3px;color:#222;font-weight:normal;">83.0%</div>
<div class="t" style="left:779.00px;width:400px;text-align:right;top:698.95px;line-height:16px;font-size:11.3px;color:#222;font-weight:normal;">29.3%</div>
<div class="t" style="left:807.00px;width:400px;text-align:right;top:698.95px;line-height:16px;font-size:11.3px;color:#222;font-weight:normal;">0</div>
<div class="r" style="left:1210.00px;top:701.90px;width:1.00px;height:11.00px;background:#81c784;"></div>
<div class="t" style="left:1007.00px;width:400px;text-align:right;top:698.95px;line-height:16px;font-size:11.3px;color:#222;font-weight:normal;">0.00%</div>
<div class="t" style="left:1043.30px;width:400px;text-align:right;top:698.95px;line-height:16px;font-size:11.3px;color:#222;font-weight:normal;">3</div>
<div class="r" style="left:1445.60px;top:701.90px;width:26.46px;height:11.00px;background:#81c784;"></div>
<div class="t" style="left:1235.40px;width:400px;text-align:right;top:698.95px;line-height:16px;font-size:11.3px;color:#222;font-weight:normal;">0.86%</div>
<div class="t" style="left:1278.50px;width:400px;text-align:right;top:698.95px;line-height:16px;font-size:11.3px;color:#222;font-weight:normal;">3</div>
<div class="r" style="left:1681.00px;top:701.90px;width:2.60px;height:11.00px;background:#81c784;"></div>
<div class="t" style="left:1463.00px;width:400px;text-align:right;top:698.95px;line-height:16px;font-size:11.3px;color:#222;font-weight:normal;">0.86%</div>
<div class="r" style="left:986.50px;top:721.40px;width:112.50px;height:27.70px;background:#fddc77;"></div>
<div class="r" style="left:1099.00px;top:721.40px;width:88.00px;height:27.70px;background:#fdd7ce;"></div>
<div class="r" style="left:1346.00px;top:721.40px;width:69.00px;height:27.70px;background:#e8f5e8;"></div>
<div class="r" style="left:1576.30px;top:721.40px;width:67.20px;height:27.70px;background:#bfe3c0;"></div>
<div class="r" style="left:1797.50px;top:721.40px;width:71.50px;height:27.70px;background:#f1f9f1;"></div>
<div class="r" style="left:360.00px;top:748.60px;width:1509.00px;height:1.00px;background:#ececec;"></div>
<div class="t" style="left:368.50px;top:726.65px;line-height:16px;font-size:11.3px;color:#222;font-weight:normal;">8.</div>
<div class="t" style="left:397.00px;top:726.65px;line-height:16px;font-size:11.3px;color:#222;font-weight:normal;">2022/10/21</div>
<div class="t" style="left:511.00px;top:726.65px;line-height:16px;font-size:11.3px;color:#222;font-weight:normal;">Fri</div>
<div class="t" style="left:207.20px;width:400px;text-align:right;top:726.65px;line-height:16px;font-size:11.3px;color:#222;font-weight:normal;">1,766</div>
<div class="r" style="left:609.20px;top:729.60px;width:71.88px;height:11.00px;background:#64b5f6;"></div>
<div class="t" style="left:357.80px;width:400px;text-align:right;top:726.65px;line-height:16px;font-size:11.3px;color:#222;font-weight:normal;">1,224</div>
<div class="r" style="left:761.00px;top:729.60px;width:57.41px;height:11.00px;background:#64b5f6;"></div>
<div class="t" style="left:488.00px;width:400px;text-align:right;top:726.65px;line-height:16px;font-size:11.3px;color:#222;font-weight:normal;">1,048</div>
<div class="r" style="left:891.00px;top:729.60px;width:60.36px;height:11.00px;background:#64b5f6;"></div>
<div class="t" style="left:690.50px;width:400px;text-align:right;top:726.65px;line-height:16px;font-size:11.3px;color:#222;font-weight:normal;">69.4%</div>
<div class="t" style="left:779.00px;width:400px;text-align:right;top:726.65px;line-height:16px;font-size:11.3px;color:#222;font-weight:normal;">31.5%</div>
<div class="t" style="left:807.00px;width:400px;text-align:right;top:726.65px;line-height:16px;font-size:11.3px;color:#222;font-weight:normal;">1</div>
<div class="r" style="left:1210.00px;top:729.60px;width:18.30px;height:11.00px;background:#81c784;"></div>
<div class="t" style="left:1007.00px;width:400px;text-align:right;top:726.65px;line-height:16px;font-size:11.3px;color:#222;font-weight:normal;">0.08%</div>
<div class="t" style="left:1043.30px;width:400px;text-align:right;top:726.65px;line-height:16px;font-size:11.3px;color:#222;font-weight:normal;">6</div>
<div class="r" style="left:1445.60px;top:729.60px;width:52.92px;height:11.00px;background:#81c784;"></div>
<div class="t" style="left:1235.40px;width:400px;text-align:right;top:726.65px;line-height:16px;font-size:11.3px;color:#222;font-weight:normal;">0.49%</div>
<div class="t" style="left:1278.50px;width:400px;text-align:right;top:726.65px;line-height:16px;font-size:11.3px;color:#222;font-weight:normal;">8</div>
<div class="r" style="left:1681.00px;top:729.60px;width:6.94px;height:11.00px;background:#81c784;"></div>
<div class="t" style="left:1463.00px;width:400px;text-align:right;top:726.65px;line-height:16px;font-size:11.3px;color:#222;font-weight:normal;">0.65%</div>
<div class="r" style="left:986.50px;top:749.10px;width:112.50px;height:27.70px;background:#fddb70;"></div>
<div class="r" style="left:1099.00px;top:749.10px;width:88.00px;height:27.70px;background:#fdd7cd;"></div>
<div class="r" style="left:1346.00px;top:749.10px;width:69.00px;height:27.70px;background:#daefdb;"></div>
<div class="r" style="left:1576.30px;top:749.10px;width:67.20px;height:27.70px;background:#b0dcb2;"></div>
<div class="r" style="left:1797.50px;top:749.10px;width:71.50px;height:27.70px;background:#f3faf3;"></div>
<div class="r" style="left:360.00px;top:776.30px;width:1509.00px;height:1.00px;background:#ececec;"></div>
<div class="t" style="left:368.50px;top:754.35px;line-height:16px;font-size:11.3px;color:#222;font-weight:normal;">9.</div>
<div class="t" style="left:397.00px;top:754.35px;line-height:16px;font-size:11.3px;color:#222;font-weight:normal;">2022/10/20</div>
<div class="t" style="left:511.00px;top:754.35px;line-height:16px;font-size:11.3px;color:#222;font-weight:normal;">Thu</div>
<div class="t" style="left:207.20px;width:400px;text-align:right;top:754.35px;line-height:16px;font-size:11.3px;color:#222;font-weight:normal;">2,176</div>
<div class="r" style="left:609.20px;top:757.30px;width:88.56px;height:11.00px;background:#64b5f6;"></div>
<div class="t" style="left:357.80px;width:400px;text-align:right;top:754.35px;line-height:16px;font-size:11.3px;color:#222;font-weight:normal;">1,468</div>
<div class="r" style="left:761.00px;top:757.30px;width:68.85px;height:11.00px;background:#64b5f6;"></div>
<div class="t" style="left:488.00px;width:400px;text-align:right;top:754.35px;line-height:16px;font-size:11.3px;color:#222;font-weight:normal;">1,274</div>
<div class="r" style="left:891.00px;top:757.30px;width:73.38px;height:11.00px;background:#64b5f6;"></div>
<div class="t" style="left:690.50px;width:400px;text-align:right;top:754.35px;line-height:16px;font-size:11.3px;color:#222;font-weight:normal;">72.3%</div>
<div class="t" style="left:779.00px;width:400px;text-align:right;top:754.35px;line-height:16px;font-size:11.3px;color:#222;font-weight:normal;">32.0%</div>
<div class="t" style="left:807.00px;width:400px;text-align:right;top:754.35px;line-height:16px;font-size:11.3px;color:#222;font-weight:normal;">2</div>
<div class="r" style="left:1210.00px;top:757.30px;width:36.60px;height:11.00px;background:#81c784;"></div>
<div class="t" style="left:1007.00px;width:400px;text-align:right;top:754.35px;line-height:16px;font-size:11.3px;color:#222;font-weight:normal;">0.14%</div>
<div class="t" style="left:1043.30px;width:400px;text-align:right;top:754.35px;line-height:16px;font-size:11.3px;color:#222;font-weight:normal;">9</div>
<div class="r" style="left:1445.60px;top:757.30px;width:79.38px;height:11.00px;background:#81c784;"></div>
<div class="t" style="left:1235.40px;width:400px;text-align:right;top:754.35px;line-height:16px;font-size:11.3px;color:#222;font-weight:normal;">0.61%</div>
<div class="t" style="left:1278.50px;width:400px;text-align:right;top:754.35px;line-height:16px;font-size:11.3px;color:#222;font-weight:normal;">7</div>
<div class="r" style="left:1681.00px;top:757.30px;width:6.08px;height:11.00px;background:#81c784;"></div>
<div class="t" style="left:1463.00px;width:400px;text-align:right;top:754.35px;line-height:16px;font-size:11.3px;color:#222;font-weight:normal;">0.48%</div>
<div class="r" style="left:986.50px;top:776.80px;width:112.50px;height:27.70px;background:#fdde7e;"></div>
<div class="r" style="left:1099.00px;top:776.80px;width:88.00px;height:27.70px;background:#fcd6cc;"></div>
<div class="r" style="left:1346.00px;top:776.80px;width:69.00px;height:27.70px;background:#daefdb;"></div>
<div class="r" style="left:1576.30px;top:776.80px;width:67.20px;height:27.70px;background:#a7d8a9;"></div>
<div class="r" style="left:1797.50px;top:776.80px;width:71.50px;height:27.70px;background:#f1f9f2;"></div>
<div class="r" style="left:360.00px;top:804.00px;width:1509.00px;height:1.00px;background:#ececec;"></div>
<div class="t" style="left:368.50px;top:782.05px;line-height:16px;font-size:11.3px;color:#222;font-weight:normal;">1...</div>
<div class="t" style="left:397.00px;top:782.05px;line-height:16px;font-size:11.3px;color:#222;font-weight:normal;">2022/10/19</div>
<div class="t" style="left:511.00px;top:782.05px;line-height:16px;font-size:11.3px;color:#222;font-weight:normal;">Wed</div>
<div class="t" style="left:207.20px;width:400px;text-align:right;top:782.05px;line-height:16px;font-size:11.3px;color:#222;font-weight:normal;">2,184</div>
<div class="r" style="left:609.20px;top:785.00px;width:88.89px;height:11.00px;background:#64b5f6;"></div>
<div class="t" style="left:357.80px;width:400px;text-align:right;top:782.05px;line-height:16px;font-size:11.3px;color:#222;font-weight:normal;">1,451</div>
<div class="r" style="left:761.00px;top:785.00px;width:68.05px;height:11.00px;background:#64b5f6;"></div>
<div class="t" style="left:488.00px;width:400px;text-align:right;top:782.05px;line-height:16px;font-size:11.3px;color:#222;font-weight:normal;">1,227</div>
<div class="r" style="left:891.00px;top:785.00px;width:70.68px;height:11.00px;background:#64b5f6;"></div>
<div class="t" style="left:690.50px;width:400px;text-align:right;top:782.05px;line-height:16px;font-size:11.3px;color:#222;font-weight:normal;">67.0%</div>
<div class="t" style="left:779.00px;width:400px;text-align:right;top:782.05px;line-height:16px;font-size:11.3px;color:#222;font-weight:normal;">32.5%</div>
<div class="t" style="left:807.00px;width:400px;text-align:right;top:782.05px;line-height:16px;font-size:11.3px;color:#222;font-weight:normal;">2</div>
<div class="r" style="left:1210.00px;top:785.00px;width:36.60px;height:11.00px;background:#81c784;"></div>
<div class="t" style="left:1007.00px;width:400px;text-align:right;top:782.05px;line-height:16px;font-size:11.3px;color:#222;font-weight:normal;">0.14%</div>
<div class="t" style="left:1043.30px;width:400px;text-align:right;top:782.05px;line-height:16px;font-size:11.3px;color:#222;font-weight:normal;">10</div>
<div class="r" style="left:1445.60px;top:785.00px;width:88.20px;height:11.00px;background:#81c784;"></div>
<div class="t" style="left:1235.40px;width:400px;text-align:right;top:782.05px;line-height:16px;font-size:11.3px;color:#222;font-weight:normal;">0.69%</div>
<div class="t" style="left:1278.50px;width:400px;text-align:right;top:782.05px;line-height:16px;font-size:11.3px;color:#222;font-weight:normal;">9</div>
<div class="r" style="left:1681.00px;top:785.00px;width:7.81px;height:11.00px;background:#81c784;"></div>
<div class="t" style="left:1463.00px;width:400px;text-align:right;top:782.05px;line-height:16px;font-size:11.3px;color:#222;font-weight:normal;">0.62%</div>
<div class="r" style="left:986.50px;top:804.50px;width:112.50px;height:27.70px;background:#fdde7e;"></div>
<div class="r" style="left:1099.00px;top:804.50px;width:88.00px;height:27.70px;background:#fcd6cd;"></div>
<div class="r" style="left:1346.00px;top:804.50px;width:69.00px;height:27.70px;background:#eaf6ea;"></div>
<div class="r" style="left:1576.30px;top:804.50px;width:67.20px;height:27.70px;background:#b9e0ba;"></div>
<div class="r" style="left:1797.50px;top:804.50px;width:71.50px;height:27.70px;background:#e9f5e9;"></div>
<div class="r" style="left:360.00px;top:831.70px;width:1509.00px;height:1.00px;background:#ececec;"></div>
<div class="t" style="left:368.50px;top:809.75px;line-height:16px;font-size:11.3px;color:#222;font-weight:normal;">1...</div>
<div class="t" style="left:397.00px;top:809.75px;line-height:16px;font-size:11.3px;color:#222;font-weight:normal;">2022/10/18</div>
<div class="t" style="left:511.00px;top:809.75px;line-height:16px;font-size:11.3px;color:#222;font-weight:normal;">Tue</div>
<div class="t" style="left:207.20px;width:400px;text-align:right;top:809.75px;line-height:16px;font-size:11.3px;color:#222;font-weight:normal;">2,143</div>
<div class="r" style="left:609.20px;top:812.70px;width:87.22px;height:11.00px;background:#64b5f6;"></div>
<div class="t" style="left:357.80px;width:400px;text-align:right;top:809.75px;line-height:16px;font-size:11.3px;color:#222;font-weight:normal;">1,476</div>
<div class="r" style="left:761.00px;top:812.70px;width:69.22px;height:11.00px;background:#64b5f6;"></div>
<div class="t" style="left:488.00px;width:400px;text-align:right;top:809.75px;line-height:16px;font-size:11.3px;color:#222;font-weight:normal;">1,231</div>
<div class="r" style="left:891.00px;top:812.70px;width:70.91px;height:11.00px;background:#64b5f6;"></div>
<div class="t" style="left:690.50px;width:400px;text-align:right;top:809.75px;line-height:16px;font-size:11.3px;color:#222;font-weight:normal;">66.9%</div>
<div class="t" style="left:779.00px;width:400px;text-align:right;top:809.75px;line-height:16px;font-size:11.3px;color:#222;font-weight:normal;">32.3%</div>
<div class="t" style="left:807.00px;width:400px;text-align:right;top:809.75px;line-height:16px;font-size:11.3px;color:#222;font-weight:normal;">1</div>
<div class="r" style="left:1210.00px;top:812.70px;width:18.30px;height:11.00px;background:#81c784;"></div>
<div class="t" style="left:1007.00px;width:400px;text-align:right;top:809.75px;line-height:16px;font-size:11.3px;color:#222;font-weight:normal;">0.07%</div>
<div class="t" style="left:1043.30px;width:400px;text-align:right;top:809.75px;line-height:16px;font-size:11.3px;color:#222;font-weight:normal;">8</div>
<div class="r" style="left:1445.60px;top:812.70px;width:70.56px;height:11.00px;background:#81c784;"></div>
<div class="t" style="left:1235.40px;width:400px;text-align:right;top:809.75px;line-height:16px;font-size:11.3px;color:#222;font-weight:normal;">0.54%</div>
<div class="t" style="left:1278.50px;width:400px;text-align:right;top:809.75px;line-height:16px;font-size:11.3px;color:#222;font-weight:normal;">18</div>
<div class="r" style="left:1681.00px;top:812.70px;width:15.62px;height:11.00px;background:#81c784;"></div>
<div class="t" style="left:1463.00px;width:400px;text-align:right;top:809.75px;line-height:16px;font-size:11.3px;color:#222;font-weight:normal;">1.22%</div>
<div class="r" style="left:986.50px;top:832.20px;width:112.50px;height:27.70px;background:#fddd79;"></div>
<div class="r" style="left:1099.00px;top:832.20px;width:88.00px;height:27.70px;background:#fdd7cd;"></div>
<div class="r" style="left:1346.00px;top:832.20px;width:69.00px;height:27.70px;background:#81c784;"></div>
<div class="r" style="left:1576.30px;top:832.20px;width:67.20px;height:27.70px;background:#9ed4a0;"></div>
<div class="r" style="left:1797.50px;top:832.20px;width:71.50px;height:27.70px;background:#f4faf4;"></div>
<div class="r" style="left:360.00px;top:859.40px;width:1509.00px;height:1.00px;background:#ececec;"></div>
<div class="t" style="left:368.50px;top:837.45px;line-height:16px;font-size:11.3px;color:#222;font-weight:normal;">1...</div>
<div class="t" style="left:397.00px;top:837.45px;line-height:16px;font-size:11.3px;color:#222;font-weight:normal;">2022/10/17</div>
<div class="t" style="left:511.00px;top:837.45px;line-height:16px;font-size:11.3px;color:#222;font-weight:normal;">Mon</div>
<div class="t" style="left:207.20px;width:400px;text-align:right;top:837.45px;line-height:16px;font-size:11.3px;color:#222;font-weight:normal;">1,914</div>
<div class="r" style="left:609.20px;top:840.40px;width:77.90px;height:11.00px;background:#64b5f6;"></div>
<div class="t" style="left:357.80px;width:400px;text-align:right;top:837.45px;line-height:16px;font-size:11.3px;color:#222;font-weight:normal;">1,319</div>
<div class="r" style="left:761.00px;top:840.40px;width:61.86px;height:11.00px;background:#64b5f6;"></div>
<div class="t" style="left:488.00px;width:400px;text-align:right;top:837.45px;line-height:16px;font-size:11.3px;color:#222;font-weight:normal;">1,111</div>
<div class="r" style="left:891.00px;top:840.40px;width:63.99px;height:11.00px;background:#64b5f6;"></div>
<div class="t" style="left:690.50px;width:400px;text-align:right;top:837.45px;line-height:16px;font-size:11.3px;color:#222;font-weight:normal;">68.8%</div>
<div class="t" style="left:779.00px;width:400px;text-align:right;top:837.45px;line-height:16px;font-size:11.3px;color:#222;font-weight:normal;">32.0%</div>
<div class="t" style="left:807.00px;width:400px;text-align:right;top:837.45px;line-height:16px;font-size:11.3px;color:#222;font-weight:normal;">7</div>
<div class="r" style="left:1210.00px;top:840.40px;width:128.10px;height:11.00px;background:#81c784;"></div>
<div class="t" style="left:1007.00px;width:400px;text-align:right;top:837.45px;line-height:16px;font-size:11.3px;color:#222;font-weight:normal;">0.53%</div>
<div class="t" style="left:1043.30px;width:400px;text-align:right;top:837.45px;line-height:16px;font-size:11.3px;color:#222;font-weight:normal;">10</div>
<div class="r" style="left:1445.60px;top:840.40px;width:88.20px;height:11.00px;background:#81c784;"></div>
<div class="t" style="left:1235.40px;width:400px;text-align:right;top:837.45px;line-height:16px;font-size:11.3px;color:#222;font-weight:normal;">0.76%</div>
<div class="t" style="left:1278.50px;width:400px;text-align:right;top:837.45px;line-height:16px;font-size:11.3px;color:#222;font-weight:normal;">6</div>
<div class="r" style="left:1681.00px;top:840.40px;width:5.21px;height:11.00px;background:#81c784;"></div>
<div class="t" style="left:1463.00px;width:400px;text-align:right;top:837.45px;line-height:16px;font-size:11.3px;color:#222;font-weight:normal;">0.45%</div>
<div class="r" style="left:1870.00px;top:502.00px;width:1.00px;height:847.00px;background:#999;"></div>
</body></html>
